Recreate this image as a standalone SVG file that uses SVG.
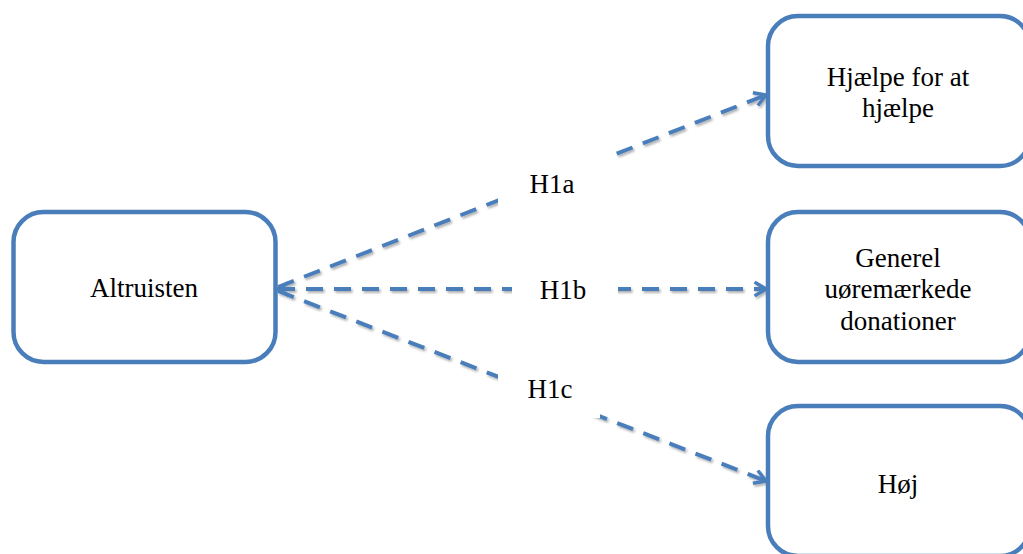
<svg xmlns="http://www.w3.org/2000/svg" width="1023" height="554" viewBox="0 0 1023 554">
<style>
.box{fill:#fff;stroke:#4a7ebb;stroke-width:4.5}
.t{font-family:"Liberation Serif","DejaVu Serif",serif;font-size:27px;fill:#000;text-anchor:middle}
.c{fill:none;stroke:#4a7ebb;stroke-width:4;stroke-dasharray:17 11}
.lbl{fill:#fff}
</style>
<defs>
<marker id="ah" viewBox="0 0 12 14" refX="11" refY="7" markerWidth="14" markerHeight="16" markerUnits="userSpaceOnUse" orient="auto-start-reverse">
<path d="M1,1 L11,7 L1,13" fill="none" stroke="#4a7ebb" stroke-width="3"/>
</marker>
<filter id="sh" x="-5%" y="-20%" width="110%" height="140%">
<feDropShadow dx="1.5" dy="2" stdDeviation="1.2" flood-color="#000" flood-opacity="0.3"/>
</filter>
</defs>
<g id="connectors" filter="url(#sh)">
<path class="c" d="M278,287 L766,95" marker-end="url(#ah)"/>
<path class="c" d="M278,289 L766,289" marker-start="url(#ah)" marker-end="url(#ah)"/>
<path class="c" d="M278,291 L766,481" marker-end="url(#ah)"/>
</g>
<g id="labels">
<rect class="lbl" x="498" y="152" width="114" height="66"/>
<text class="t" x="552" y="193">H1a</text>
<rect class="lbl" x="512" y="270" width="106" height="40"/>
<text class="t" x="563" y="299">H1b</text>
<rect class="lbl" x="498" y="366" width="102" height="52"/>
<text class="t" x="550" y="398">H1c</text>
</g>
<g id="altruisten">
<rect class="box" x="13.5" y="212" width="262" height="150" rx="30"/>
<text class="t" x="144" y="297">Altruisten</text>
</g>
<g id="hjaelpe">
<rect class="box" x="768" y="16" width="262" height="150" rx="30"/>
<text class="t" x="898" y="86">Hjælpe for at</text>
<text class="t" x="898" y="117">hjælpe</text>
</g>
<g id="generel">
<rect class="box" x="768" y="212" width="262" height="150" rx="30"/>
<text class="t" x="898" y="267">Generel</text>
<text class="t" x="898" y="298">uøremærkede</text>
<text class="t" x="898" y="330">donationer</text>
</g>
<g id="hoej">
<rect class="box" x="768" y="406" width="262" height="150" rx="30"/>
<text class="t" x="898" y="493">Høj</text>
</g>
</svg>
